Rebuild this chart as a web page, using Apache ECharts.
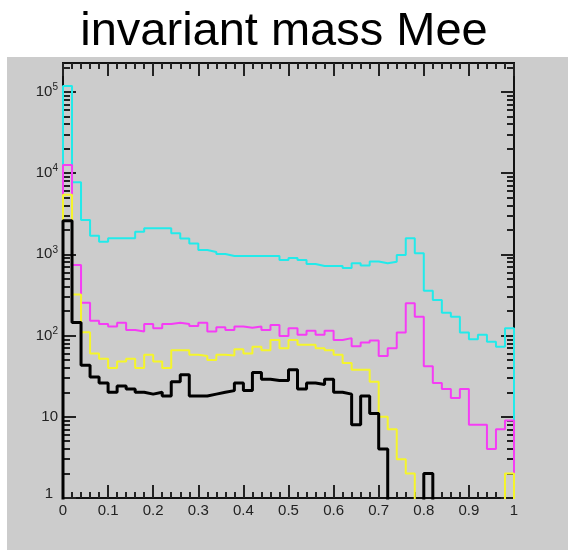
<!DOCTYPE html>
<html>
<head>
<meta charset="utf-8">
<script src="https://cdn.jsdelivr.net/npm/echarts@6/dist/echarts.min.js"></script>
<style>html,body{margin:0;padding:0;background:#fff}#c{width:568px;height:550px}</style>
</head>
<body>
<div id="c"></div>
<script>
// ---- data (50 bins of width 0.02 from 0 to 1) ----
const binWidth = 0.02;
const xTickLabels = ['0','0.1','0.2','0.3','0.4','0.5','0.6','0.7','0.8','0.9','1'];
const yMajorValues = [1,10,100,1000,10000,100000];
const cyanCounts = [118000,7700,2650,1690,1430,1580,1580,1580,1900,2100,2100,2100,1820,1570,1360,1130,1070,1010,955,955,955,955,955,955,853,903,853,762,720,720,720,680,777,730,818,777,813,984,1580,1032,357,274,191,171,109,90,102,84,73,123];
const magentaCounts = [12600,740,254,152,139,129,144,117,112,139,123,139,144,139,131,144,112,127,117,129,125,129,117,135,99,123,102,115,102,115,88,93,74,82,87,56,70,109,250,171,42,26,22,17,22,8,8,4,7,9];
const yellowCounts = [5400,320,110,60,52,40,48,52,40,58,48,40,66,66,58,56,50,58,57,68,60,73,66,88,70,88,77,77,70,66,58,46,38,38,27,10,7,3,2,0,0,0,0,0,0,0,0,0,0,2];
const blackCounts = [2600,145,43,31,26,20,24,22,20,19,20,18,27,33,18,18,19,20,21,26,21,35,29,28,28,38,22,26,25,29,20,19,8,18,11,4,0,0,0,0,2,0,0,0,0,0,0,0,0,0];

const yMin = 1, yMax = 227000;
const FLOOR = 0.3; // empty bins drawn below the frame (clipped), like ROOT on log scale

function histPoints(counts){
  const n = counts.length, last = counts[n-1] > 0 ? counts[n-1] : FLOOR;
  const pts = [[0, FLOOR]];
  counts.forEach((c,i)=>{ pts.push([+(i*binWidth).toFixed(4), c>0?c:FLOOR]); });
  pts.push([+(n*binWidth).toFixed(4), last]);
  pts.push([+(n*binWidth).toFixed(4), FLOOR]);
  return pts;
}
const yMinorValues = [];
for (let d=1; d<=100000; d*=10){ for (let k=2;k<=9;k++){ if (k*d<yMax) yMinorValues.push(k*d);} }

const chart = echarts.init(document.getElementById('c'));
const FONT = 'Liberation Sans, Arial, sans-serif';
const frameColor = '#111';
function supLabel(v){
  if (v===1) return '{one|1}';
  if (v===10) return '{b|10}';
  const e = Math.round(Math.log10(v));
  return '{b|10}{s|'+e+'}';
}
const yRich = { b:{fontSize:15, fontFamily:FONT, color:'#222', lineHeight:18},
                one:{fontSize:15, fontFamily:FONT, color:'#222', lineHeight:18, padding:[0,5,8,0]},
                s:{fontSize:10, fontFamily:FONT, color:'#222', padding:[0,0,9,0], lineHeight:18} };

function xAx(pos, showLabel){
  return {type:'value', position:pos, min:0, max:1, interval:0.1,
    axisLine:{show:true, onZero:false, lineStyle:{color:frameColor, width:2}},
    axisTick:{show:true, inside:true, length:13, lineStyle:{color:'#222', width:2}},
    minorTick:{show:true, splitNumber:5, length:6, lineStyle:{color:'#222', width:2}},
    splitLine:{show:false}, minorSplitLine:{show:false},
    axisLabel:{show:showLabel, margin:5, fontSize:15, fontFamily:FONT, color:'#222',
      formatter:(v)=>xTickLabels[Math.round(v*10)]}
  };
}
function yAx(pos, major, showLabel){
  return {type:'log', logBase:10, position:pos, min:yMin, max:yMax, offset:0,
    axisLine:{show:true, onZero:false, lineStyle:{color:frameColor, width:2}},
    axisTick:{show:true, inside:true, length: major?13:7, lineStyle:{color:'#222', width:2},
      customValues: major?yMajorValues:yMinorValues},
    splitLine:{show:false},
    axisLabel:{show:showLabel, margin:5, customValues:yMajorValues, formatter:supLabel, rich:yRich}
  };
}

chart.setOption({
  animation:false,
  backgroundColor:'#ffffff',
  graphic:[{type:'rect', z:-100, shape:{x:7,y:57,width:561,height:493}, style:{fill:'#cccccc'}, silent:true}],
  title:{text:'invariant mass Mee', left:'center', top:4,
    textStyle:{fontSize:47, fontWeight:'normal', fontFamily:FONT, color:'#000'}},
  grid:{left:63, right:54, top:63, bottom:52, show:false},
  xAxis:[xAx('bottom', true), xAx('top', false)],
  yAxis:[yAx('left', true, true), yAx('left', false, false), yAx('right', true, false), yAx('right', false, false)],
  series:[
    {type:'line', step:'end', data:histPoints(cyanCounts), showSymbol:false, clip:true, lineStyle:{color:'#22eaea', width:2}, itemStyle:{color:'#22eaea'}, z:3},
    {type:'line', step:'end', data:histPoints(magentaCounts), showSymbol:false, clip:true, lineStyle:{color:'#f53cf5', width:2}, itemStyle:{color:'#f53cf5'}, z:4},
    {type:'line', step:'end', data:histPoints(yellowCounts), showSymbol:false, clip:true, lineStyle:{color:'#f5f52a', width:2}, itemStyle:{color:'#f5f52a'}, z:5},
    {type:'line', step:'end', data:histPoints(blackCounts), showSymbol:false, clip:true, lineStyle:{color:'#000000', width:3}, itemStyle:{color:'#000'}, z:6}
  ]
});
</script>
</body>
</html>
